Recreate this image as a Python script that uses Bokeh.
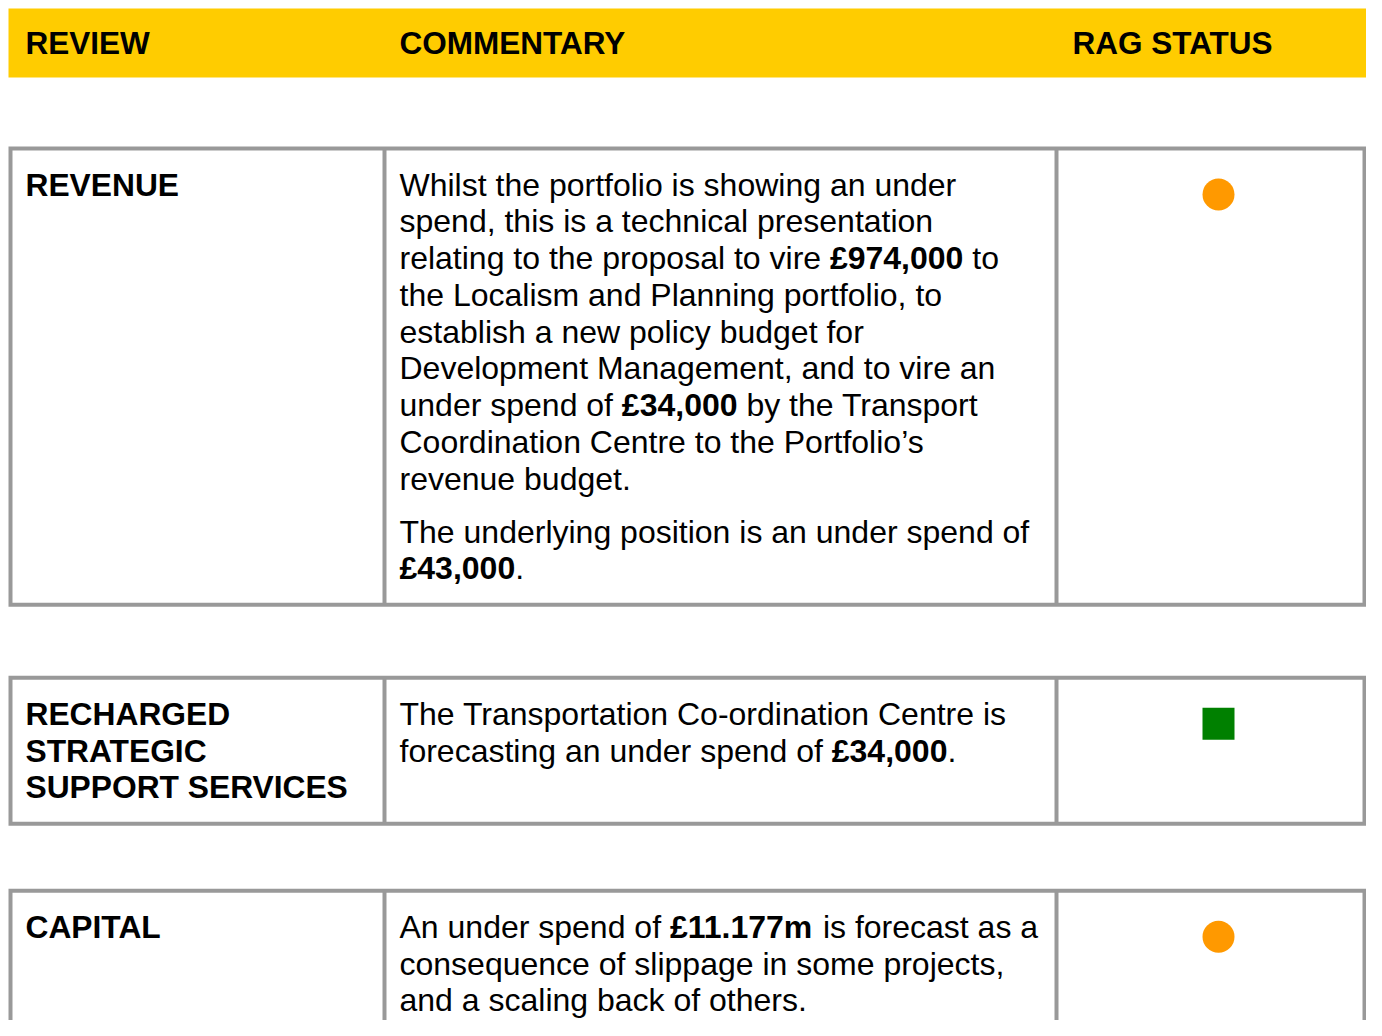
from bokeh.plotting import figure
from bokeh.models import Range1d, ColumnDataSource
from bokeh.embed import file_html
from bokeh.resources import INLINE

# ---------------- data ----------------
headers = ["REVIEW", "COMMENTARY", "RAG STATUS"]

review_labels = [
    ["REVENUE"],
    ["RECHARGED", "STRATEGIC", "SUPPORT SERVICES"],
    ["CAPITAL"],
]

# comment paragraphs, wrapped as in the source; **...** marks bold figures
commentary = [
    [
        [
            "Whilst the portfolio is showing an under",
            "spend, this is a technical presentation",
            "relating to the proposal to vire **£974,000** to",
            "the Localism and Planning portfolio, to",
            "establish a new policy budget for",
            "Development Management, and to vire an",
            "under spend of **£34,000** by the Transport",
            "Coordination Centre to the Portfolio’s",
            "revenue budget.",
        ],
        [
            "The underlying position is an under spend of",
            "**£43,000**.",
        ],
    ],
    [
        [
            "The Transportation Co-ordination Centre is",
            "forecasting an under spend of **£34,000**.",
        ],
    ],
    [
        [
            "An under spend of **£11.177m** is forecast as a",
            "consequence of slippage in some projects,",
            "and a scaling back of others.",
        ],
    ],
]

rag_status = ["Amber", "Green", "Amber"]
rag_color = {"Amber": "#FF9900", "Green": "#008000", "Red": "#FF0000"}
rag_marker = {"Amber": "circle", "Green": "square", "Red": "triangle"}

# ---------------- font metrics (Arial / Liberation Sans, per 1000 em) ----------------
_reg = {' ': 278, ',': 278, '.': 278, '-': 333, '’': 222, '£': 556,
        'A': 667, 'B': 667, 'C': 722, 'D': 722, 'E': 667, 'F': 611, 'G': 778, 'H': 722, 'I': 278,
        'J': 500, 'K': 667, 'L': 556, 'M': 833, 'N': 722, 'O': 778, 'P': 667, 'Q': 778, 'R': 722,
        'S': 667, 'T': 611, 'U': 722, 'V': 667, 'W': 944, 'X': 667, 'Y': 667, 'Z': 611,
        'a': 556, 'b': 556, 'c': 500, 'd': 556, 'e': 556, 'f': 278, 'g': 556, 'h': 556, 'i': 222,
        'j': 222, 'k': 500, 'l': 222, 'm': 833, 'n': 556, 'o': 556, 'p': 556, 'q': 556, 'r': 333,
        's': 500, 't': 278, 'u': 556, 'v': 500, 'w': 722, 'x': 500, 'y': 500, 'z': 500}
_bold = dict(_reg)
_bold.update({'A': 722, 'B': 722, 'J': 556, 'K': 722, 'L': 611,
              'a': 556, 'b': 611, 'c': 556, 'd': 611, 'e': 556, 'f': 333, 'g': 611, 'h': 611,
              'i': 278, 'j': 278, 'k': 556, 'l': 278, 'm': 889, 'n': 611, 'o': 611, 'p': 611,
              'q': 611, 'r': 389, 's': 556, 't': 333, 'u': 611, 'v': 556, 'w': 778, 'x': 556,
              'y': 556, 'z': 500})
for d in "0123456789":
    _reg[d] = 556
    _bold[d] = 556


def text_width(s, bold, size):
    tbl = _bold if bold else _reg
    return sum(tbl.get(c, 556) for c in s) / 1000.0 * size


# ---------------- layout (pixel units) ----------------
W, H = 1366, 1020
RIGHT = min(1382, W)                   # table / header right edge

BORDER = 4
col_edges = [8, 382, 1054, 1378]       # left edge of each vertical border
text_x = [25, 399, 1072]
HEADER_TOP, HEADER_BOTTOM = 8, 77
HEADER_MID = 42.5
ROW_GAPS = [69, 69, 63]                # space above each row box
FIRST_MID = 38.5                       # first text line (cap centre) below row top
LINE_H = 36.75
PARA_GAP = 16.25
BOTTOM_PAD = 38
MARK_DY = 48
Y_ADJ = -0.5                           # text anchor offset vs. cap centre

BODY_SIZE = 32
LABEL_SIZE = 31.75
HEAD_SIZE = 31.5

p = figure(width=W, height=H, output_backend="svg", toolbar_location=None,
           x_range=Range1d(0, W), y_range=Range1d(H, 0),
           min_border=0, outline_line_color=None, background_fill_color="white",
           border_fill_color="white")
p.axis.visible = False
p.xgrid.visible = False
p.ygrid.visible = False

# header band
p.quad(left=[8], right=[RIGHT], top=[HEADER_TOP], bottom=[HEADER_BOTTOM],
       fill_color="#FFCC00", line_color=None)

tx, ty, tt, tstyle, tsize = [], [], [], [], []
for i, h in enumerate(headers):
    tx.append(text_x[i]); ty.append(HEADER_MID + Y_ADJ); tt.append(h)
    tstyle.append("bold"); tsize.append(f"{HEAD_SIZE}px")

box_l, box_r, box_t, box_b = [], [], [], []
cell_l, cell_r, cell_t, cell_b = [], [], [], []
mx, my, mcol, mmark = [], [], [], []

prev_bottom = HEADER_BOTTOM
for r in range(len(review_labels)):
    top = prev_bottom + ROW_GAPS[r]
    mid0 = top + FIRST_MID
    # review label (bold)
    for k, lab in enumerate(review_labels[r]):
        tx.append(text_x[0]); ty.append(mid0 + k * LINE_H + Y_ADJ); tt.append(lab)
        tstyle.append("bold"); tsize.append(f"{LABEL_SIZE}px")
    last_label = mid0 + (len(review_labels[r]) - 1) * LINE_H
    # commentary with inline bold figures
    y = mid0
    for pi, para in enumerate(commentary[r]):
        if pi > 0:
            y += PARA_GAP
        for line in para:
            parts = line.split("**")
            x = text_x[1]
            for j, seg in enumerate(parts):
                if not seg:
                    continue
                bold = (j % 2 == 1)
                lead = len(seg) - len(seg.lstrip(" "))
                x += text_width(" " * lead, bold, BODY_SIZE)
                seg = seg.lstrip(" ")
                tx.append(x); ty.append(y + Y_ADJ); tt.append(seg)
                tstyle.append("bold" if bold else "normal"); tsize.append(f"{BODY_SIZE}px")
                x += text_width(seg, bold, BODY_SIZE)
            y += LINE_H
    last_comment = y - LINE_H
    bottom = max(last_label, last_comment) + BOTTOM_PAD
    # borders: grey outer box, white cells inside
    box_l.append(col_edges[0]); box_r.append(RIGHT); box_t.append(top); box_b.append(bottom)
    rights = [col_edges[1], col_edges[2], RIGHT - BORDER]
    for c in range(3):
        cell_l.append(col_edges[c] + BORDER)
        cell_r.append(rights[c])
        cell_t.append(top + BORDER)
        cell_b.append(bottom - BORDER)
    # RAG marker, centred in the status column
    mx.append((col_edges[2] + BORDER + col_edges[3]) / 2)
    my.append(top + MARK_DY)
    mcol.append(rag_color[rag_status[r]])
    mmark.append(rag_marker[rag_status[r]])
    prev_bottom = bottom

p.quad(left=box_l, right=box_r, top=box_t, bottom=box_b, fill_color="#999999", line_color=None)
p.quad(left=cell_l, right=cell_r, top=cell_t, bottom=cell_b, fill_color="white", line_color=None)

msrc = ColumnDataSource(dict(x=mx, y=my, c=mcol, m=mmark))
p.scatter(x="x", y="y", source=msrc, marker="m", size=32, fill_color="c", line_color=None)

tsrc = ColumnDataSource(dict(x=tx, y=ty, t=tt, s=tstyle, z=tsize))
p.text(x="x", y="y", text="t", source=tsrc, text_font_style="s", text_font_size="z",
       text_font={"value": "Liberation Sans"}, text_color="#000000",
       text_baseline="alphabetic", text_align="left")

open("out.html", "w").write(file_html(p, INLINE))
